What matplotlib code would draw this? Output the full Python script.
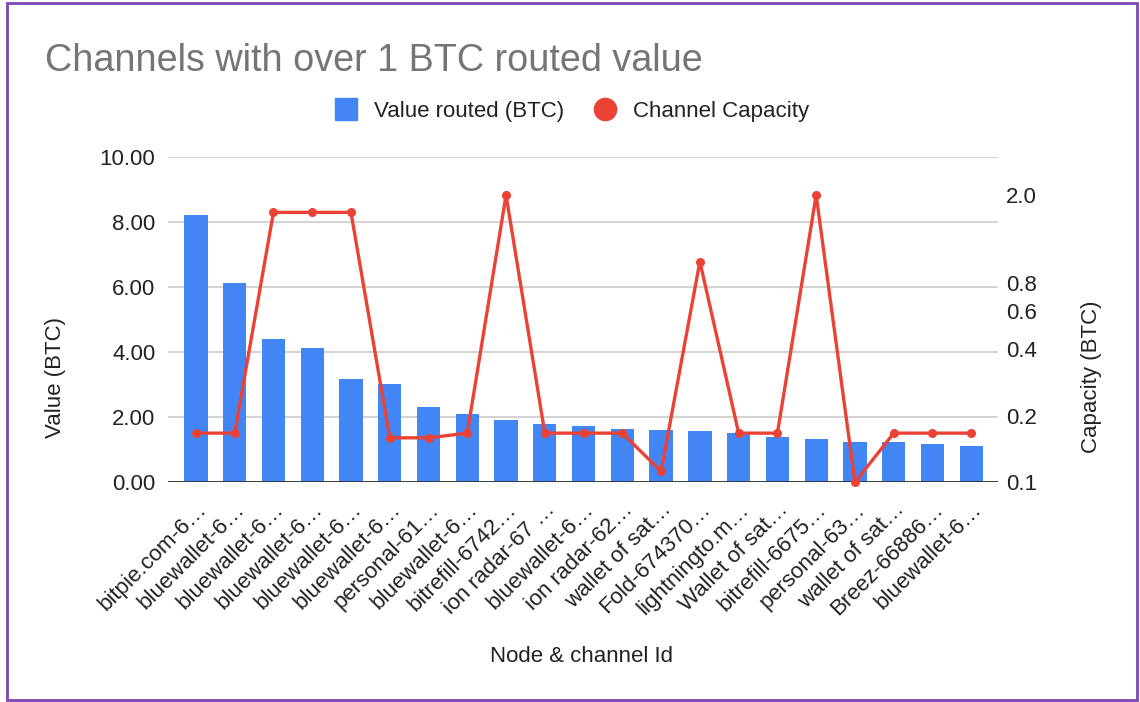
import matplotlib
matplotlib.use("Agg")
import matplotlib.pyplot as plt
from matplotlib.lines import Line2D
from matplotlib.patches import Rectangle

plt.rcParams['font.family'] = ['Liberation Sans', 'DejaVu Sans']

labels = ["bitpie.com-6…", "bluewallet-6…", "bluewallet-6…", "bluewallet-6…",
          "bluewallet-6…", "bluewallet-6…", "personal-61…", "bluewallet-6…",
          "bitrefill-6742…", "ion radar-67 …", "bluewallet-6…", "ion radar-62…",
          "wallet of sat…", "Fold-674370…", "lightningto.m…", "Wallet of sat…",
          "bitrefill-6675…", "personal-63…", "wallet of sat…", "Breez-66886…",
          "bluewallet-6…"]
value_routed = [8.20, 6.13, 4.40, 4.11, 3.18, 3.01, 2.32, 2.09, 1.91, 1.80, 1.74,
                1.63, 1.62, 1.57, 1.50, 1.40, 1.33, 1.23, 1.23, 1.17, 1.11]
capacity = [0.167, 0.167, 1.67, 1.67, 1.67, 0.159, 0.159, 0.167, 2.0, 0.167, 0.167,
            0.167, 0.112, 1.0, 0.167, 0.167, 2.0, 0.1, 0.167, 0.167, 0.167]
left_ticks = [0, 2, 4, 6, 8, 10]
right_ticks = [0.1, 0.2, 0.4, 0.6, 0.8, 2.0]

BLUE = '#4285f4'
RED = '#ea4335'
TXT = '#222222'

W, H = 1140, 702
fig = plt.figure(figsize=(W / 100, H / 100), dpi=100)

def fx(px):
    return px / W

def fy(py):
    return 1 - py / H

ax = fig.add_axes([fx(168), fy(482.3), fx(998) - fx(168), fy(156.7) - fy(482.3)])
x = list(range(len(labels)))
ax.bar(x, value_routed, width=0.6, color=BLUE, zorder=2)
ax.set_xlim(-0.72, 20.69)
ax.set_ylim(0, 10)
ax.set_yticks(left_ticks)
ax.set_yticklabels([f"{t:.2f}" for t in left_ticks])
ax.grid(axis='y', color='#cccccc', lw=1.2, zorder=0)
ax.axhline(0, color='#333333', lw=1.3, zorder=3)
for s in ax.spines.values():
    s.set_visible(False)
ax.tick_params(axis='y', length=0, pad=9, labelsize=16, labelcolor=TXT)
ax.tick_params(axis='x', length=0, pad=12, labelsize=16, labelcolor=TXT)
ax.set_xticks(x)
ax.set_xticklabels(labels, rotation=45, ha='right', va='top', rotation_mode='anchor')

ax2 = ax.twinx()
ax2.set_yscale('log')
ax2.set_ylim(0.1, 2.984)
ax2.plot(x, capacity, color=RED, lw=2.4, marker='o', markersize=5.5,
         solid_joinstyle='miter', clip_on=False, zorder=4)
ax2.set_yticks(right_ticks)
ax2.set_yticklabels([f"{t:.1f}" for t in right_ticks])
ax2.minorticks_off()
ax2.yaxis.set_minor_locator(matplotlib.ticker.NullLocator())
ax2.tick_params(axis='y', length=0, pad=6, labelsize=16, labelcolor=TXT)
for s in ax2.spines.values():
    s.set_visible(False)

fig.text(fx(45), fy(71), "Channels with over 1 BTC routed value", fontsize=27.2,
         color='#757575', ha='left', va='baseline')
fig.text(fx(55), fy(378), "Value (BTC)", rotation=90, fontsize=16, color=TXT,
         ha='center', va='center')
fig.text(fx(1092), fy(377), "Capacity (BTC)", rotation=90, fontsize=16, color=TXT,
         ha='center', va='center')
fig.text(fx(582), fy(656), "Node & channel Id", fontsize=16, color=TXT,
         ha='center', va='center')

handles = [Line2D([], [], ls='none', marker='s', markersize=15.5, color=BLUE),
           Line2D([], [], ls='none', marker='o', markersize=16, color=RED)]
fig.legend(handles, ["Value routed (BTC)", "Channel Capacity"], ncol=2,
           loc='center', bbox_to_anchor=(fx(573), fy(111)), frameon=False,
           fontsize=16, handlelength=0.8, handletextpad=0.85, columnspacing=1.45,
           labelcolor=TXT)

fig.patches.append(Rectangle((fx(7), fy(700)), fx(1137) - fx(7), fy(3) - fy(700),
                             transform=fig.transFigure, fill=False,
                             edgecolor='#7f45b8', lw=2, zorder=10))

fig.savefig("out.png", dpi=100, facecolor='white')
